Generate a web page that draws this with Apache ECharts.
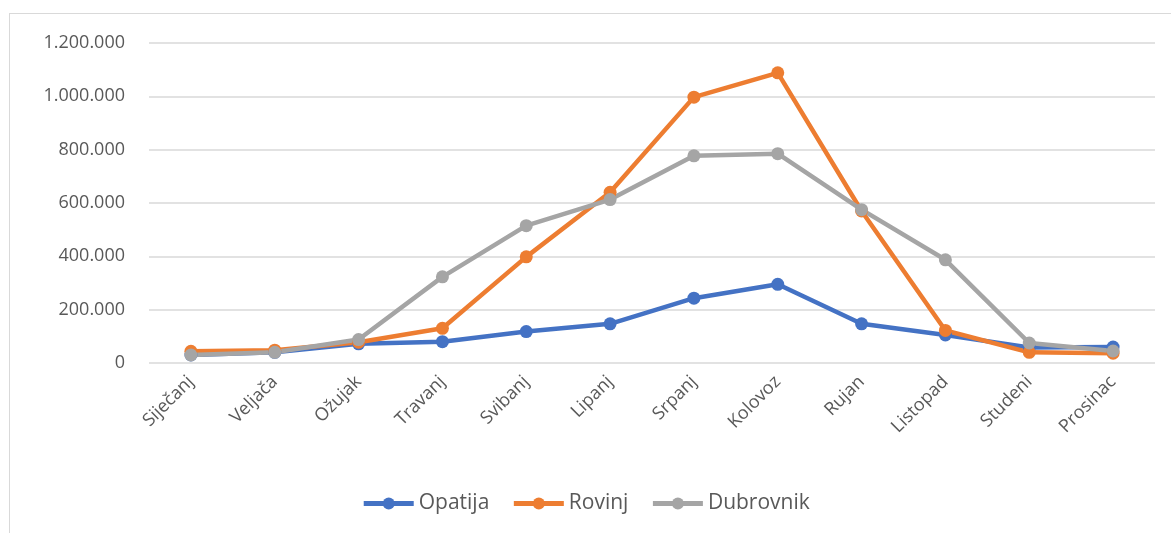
<!DOCTYPE html>
<html>
<head>
<meta charset="utf-8">
<script src="https://cdn.jsdelivr.net/npm/echarts@6/dist/echarts.min.js"></script>
<style>
  html, body { margin: 0; padding: 0; background: #fff; }
  #frame { position: absolute; left: 9px; top: 13px; width: 1170px; height: 530px; border: 1px solid #d9d9d9; box-sizing: border-box; }
  #chart { position: absolute; left: 0; top: 0; width: 1171px; height: 533px; }
</style>
</head>
<body>
<div id="frame"></div>
<div id="chart"></div>
<script>
const months = ['Siječanj', 'Veljača', 'Ožujak', 'Travanj', 'Svibanj', 'Lipanj', 'Srpanj', 'Kolovoz', 'Rujan', 'Listopad', 'Studeni', 'Prosinac'];
const opatija = [30000, 40000, 72000, 80000, 118000, 147000, 243000, 295000, 147000, 105000, 58000, 60000];
const rovinj = [44000, 48000, 78000, 130000, 398000, 640000, 997000, 1088000, 570000, 122000, 40000, 37000];
const dubrovnik = [30000, 40000, 88000, 323000, 515000, 613000, 777000, 785000, 575000, 387000, 75000, 45000];

const fmt = v => String(v).replace(/\B(?=(\d{3})+(?!\d))/g, '.');
const font = '"Open Sans", sans-serif';

const chart = echarts.init(document.getElementById('chart'));

function line(name, data, color) {
  return {
    name, data, type: 'line', color,
    symbol: 'circle', symbolSize: 13,
    lineStyle: { width: 4.5, color },
    itemStyle: { color },
    z: 2
  };
}

const option = {
  animation: false,
  grid: { left: 149, right: 16, top: 43, bottom: 170 },
  legend: {
    bottom: 14,
    left: 'center',
    itemWidth: 50,
    itemHeight: 15,
    itemGap: 22,
    itemTextGap: 3,
    lineStyle: { width: 5 },
    textStyle: { fontFamily: font, fontSize: 21, color: '#595959' },
    data: ['Opatija', 'Rovinj', 'Dubrovnik']
  },
  xAxis: {
    type: 'category',
    data: months,
    boundaryGap: true,
    axisLine: { show: false },
    axisTick: { show: false },
    axisLabel: { rotate: 45, margin: 16, fontFamily: font, fontSize: 18, color: '#595959', interval: 0 }
  },
  yAxis: {
    type: 'value',
    min: 0, max: 1200000, interval: 200000,
    axisLabel: { formatter: fmt, margin: 24, fontFamily: font, fontSize: 18, color: '#595959' },
    splitLine: { lineStyle: { color: '#d9d9d9', width: 1.5 } }
  },
  series: [
    line('Opatija', opatija, '#4472c4'),
    line('Rovinj', rovinj, '#ed7d31'),
    line('Dubrovnik', dubrovnik, '#a5a5a5')
  ]
};
option && chart.setOption(option);
</script>
</body>
</html>
